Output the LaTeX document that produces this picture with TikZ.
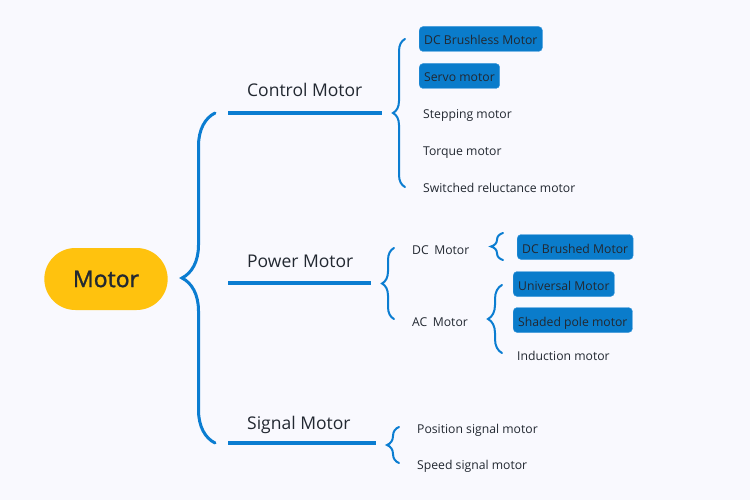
\documentclass[tikz,border=0pt]{standalone}
\usepackage{fontspec}
\setmainfont{Open Sans}
\newfontfamily\rootfont{Open Sans}[FakeBold=1.3]
\usetikzlibrary{positioning,shapes.misc,decorations.pathreplacing}

\definecolor{linkblue}{HTML}{0B7DD1}
\definecolor{boxblue}{HTML}{0A7CCB}
\definecolor{boxedge}{HTML}{3A98DD}
\definecolor{rootgold}{HTML}{FFC20E}
\definecolor{inkdark}{HTML}{222831}
\definecolor{paper}{HTML}{F9F9FE}

\tikzset{
  root/.style={rounded rectangle, fill=rootgold, text=inkdark,
    minimum width=130pt, minimum height=62pt, font=\fontsize{23}{25}\rootfont},
  branch/.style={anchor=west, inner sep=0pt, text height=14pt, text depth=0pt,
    text=inkdark, font=\fontsize{17.5}{19}\selectfont},
  leaf/.style={anchor=west, inner xsep=4pt, inner ysep=0pt, minimum height=25pt,
    text height=12pt, text depth=0pt, text=inkdark, font=\fontsize{12.2}{14}\selectfont},
  hilite/.style={leaf, inner xsep=5pt, fill=boxblue, draw=boxedge, rounded corners=4pt},
  bar/.style={draw=linkblue, line width=3.5pt},
  curly/.style={draw=linkblue, line width=2pt, line cap=round, decorate,
    decoration={brace, amplitude=#1}},
  curly/.default=12pt
}

\begin{document}
\begin{tikzpicture}[x=1pt, y=-1pt]
  \path[use as bounding box, fill=paper] (0,0) rectangle (750,500);

  % root
  \node [root] (motor) at (106,279) {Motor};
  \coordinate (rootTop) at (215,113);
  \coordinate (rootBot) at (215,443);
  \draw [curly=33pt, line width=3pt] (rootBot) -- (rootTop);

  % control motor
  \node [branch] (ctrl) at (247,90) {Control Motor};
  \coordinate (ctrlIn) at (228,113);
  \coordinate (ctrlOut) at (382,113);
  \draw [bar] (ctrlIn) -- (ctrlOut);
  \coordinate (ctrlTop) at (405,39);
  \coordinate (ctrlBot) at (405,187);
  \draw [curly] (ctrlBot) -- (ctrlTop);
  \node [hilite] (bldc) at (419,39) {DC Brushless Motor};
  \node [hilite] (servo) at (419,76) {Servo motor};
  \node [leaf] (stepper) at (419,113) {Stepping motor};
  \node [leaf] (torque) at (419,150) {Torque motor};
  \node [leaf] (srm) at (419,187) {Switched reluctance motor};

  % power motor
  \node [branch] (power) at (247,260) {Power Motor};
  \coordinate (powerIn) at (228,283);
  \coordinate (powerOut) at (371,283);
  \draw [bar] (powerIn) -- (powerOut);
  \coordinate (powerTop) at (394,248);
  \coordinate (powerBot) at (394,319);
  \draw [curly] (powerBot) -- (powerTop);
  \node [leaf] (dc) at (408,248) {DC\hspace{0.45em}Motor};
  \node [leaf] (ac) at (408,320) {AC\hspace{0.45em}Motor};
  \coordinate (dcTop) at (503,233);
  \coordinate (dcBot) at (503,260);
  \draw [curly] (dcBot) -- (dcTop);
  \node [hilite] (brushed) at (517,247) {DC Brushed Motor};
  \coordinate (acTop) at (502,285);
  \coordinate (acBot) at (502,353);
  \draw [curly=14pt] (acBot) -- (acTop);
  \node [hilite] (universal) at (513,284) {Universal Motor};
  \node [hilite] (shaded) at (513,320) {Shaded pole motor};
  \node [leaf] (induction) at (513,354) {Induction motor};

  % signal motor
  \node [branch] (signal) at (247,422) {Signal Motor};
  \coordinate (signalIn) at (228,443);
  \coordinate (signalOut) at (376,443);
  \draw [bar] (signalIn) -- (signalOut);
  \coordinate (signalTop) at (399,427);
  \coordinate (signalBot) at (399,463);
  \draw [curly] (signalBot) -- (signalTop);
  \node [leaf] (position) at (413,427) {Position signal motor};
  \node [leaf] (speed) at (413,463) {Speed signal motor};
\end{tikzpicture}
\end{document}
